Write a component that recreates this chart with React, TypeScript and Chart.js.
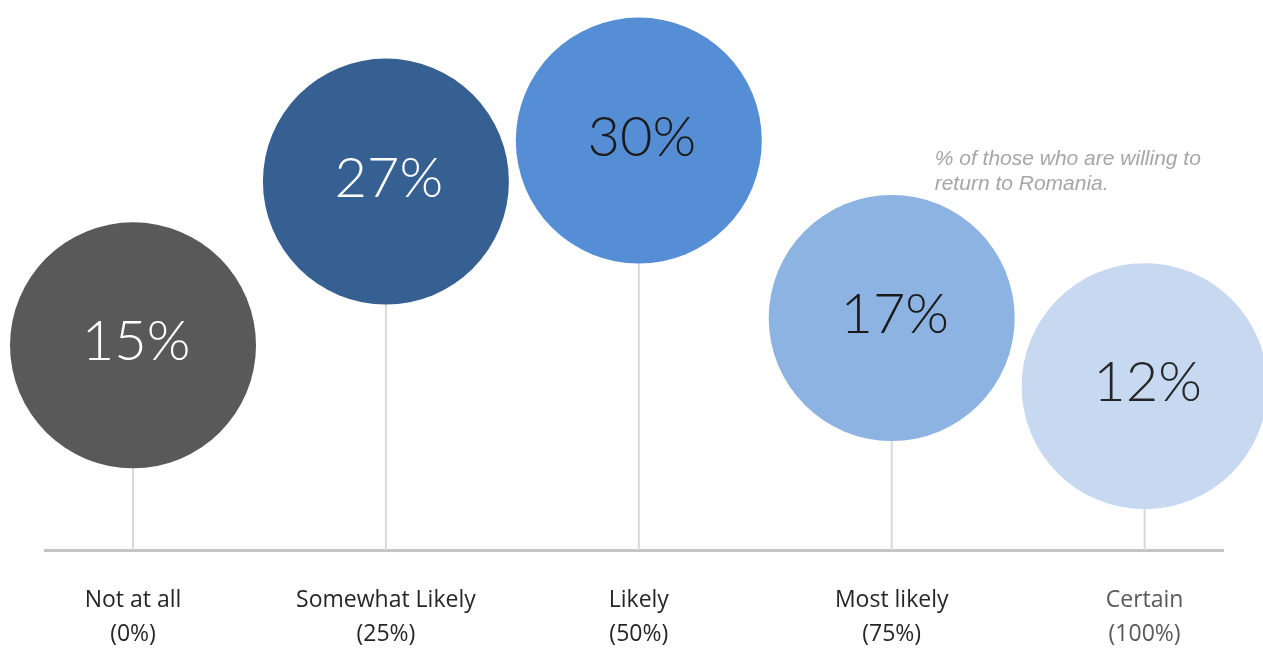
import React, { useEffect, useRef } from "react";
import { Chart, registerables } from "chart.js";

Chart.register(...registerables);

const categories = ["Not at all", "Somewhat Likely", "Likely", "Most likely", "Certain"];
const scaleLabels = ["(0%)", "(25%)", "(50%)", "(75%)", "(100%)"];
const shares = [15, 27, 30, 17, 12];
const bubbleColors = ["#595959", "#366092", "#558ed5", "#8db3e2", "#c6d9f1"];
const valueTextColors = ["#ffffff", "#ffffff", "#1a1a1a", "#1a1a1a", "#262626"];
const noteLines = ["% of those who are willing to", "return to Romania."];

const valueLabels = {
  id: "valueLabels",
  afterDatasetsDraw(chart: any) {
    const ctx = chart.ctx;
    const meta = chart.getDatasetMeta(1);
    ctx.save();
    ctx.textAlign = "center";
    ctx.textBaseline = "middle";
    ctx.font = "300 56px Lato, Inter, sans-serif";
    meta.data.forEach((el: any, i: number) => {
      ctx.fillStyle = valueTextColors[i];
      ctx.fillText(shares[i] + "%", el.x + 3, el.y - 3);
    });
    ctx.font = "italic 21px 'Liberation Sans', Arial, sans-serif";
    ctx.fillStyle = "#a6a6a6";
    ctx.textAlign = "left";
    ctx.textBaseline = "alphabetic";
    const xs = chart.scales.x;
    const x0 = xs.getPixelForValue(3.17);
    noteLines.forEach((t, i) => ctx.fillText(t, x0, 165 + i * 25));
    ctx.restore();
  },
};

export default function App() {
  const ref = useRef<HTMLCanvasElement>(null);
  useEffect(() => {
    const stickData: any[] = [];
    shares.forEach((v, i) => {
      stickData.push({ x: i, y: 0 }, { x: i, y: v }, { x: i, y: null });
    });
    const chart = new Chart(ref.current!, {
      type: "bubble",
      data: {
        datasets: [
          {
            type: "line",
            data: stickData,
            borderColor: "#d9d9d9",
            borderWidth: 2,
            pointRadius: 0,
            spanGaps: false,
            order: 1,
            clip: false,
          } as any,
          {
            type: "bubble",
            data: shares.map((v, i) => ({ x: i, y: v, r: 123 })),
            backgroundColor: bubbleColors,
            borderWidth: 0,
            hoverBorderWidth: 0,
            order: 0,
            clip: false,
          } as any,
        ],
      },
      options: {
        animation: false,
        responsive: true,
        maintainAspectRatio: false,
        events: [],
        layout: { autoPadding: false, padding: { left: 45, right: 40, top: 0, bottom: 0 } },
        plugins: { legend: { display: false }, tooltip: { enabled: false } },
        scales: {
          x: {
            type: "linear",
            min: -0.348,
            max: 4.31,
            afterBuildTicks: (s: any) => {
              s.ticks = categories.map((_, i) => ({ value: i }));
            },
            afterFit: (s: any) => {
              s.height = 98;
            },
            grid: { display: false, drawTicks: false },
            border: { display: true, color: "#c4c4c4", width: 3 },
            ticks: {
              autoSkip: false,
              maxRotation: 0,
              padding: 33,
              color: (c: any) => (c.index === 4 ? "#595959" : "#262626"),
              font: { family: "'Open Sans', sans-serif", size: 23, lineHeight: 1.48 },
              callback: (v: any) => [categories[v], scaleLabels[v]],
            },
          },
          y: { display: false, min: 0, max: 40.3 },
        },
      },
      plugins: [valueLabels],
    });
    return () => chart.destroy();
  }, []);
  return (
    <div style={{ position: "fixed", left: 0, top: 0, width: 1263, height: 648, background: "#fff" }}>
      <canvas ref={ref} />
    </div>
  );
}
